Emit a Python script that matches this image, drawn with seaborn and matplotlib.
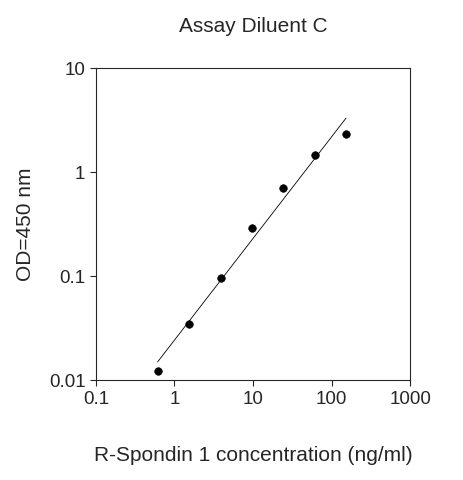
import numpy as np
import matplotlib
matplotlib.use("Agg")
import matplotlib.pyplot as plt
import seaborn as sns

# Standard curve values
conc = [0.61, 1.53, 3.9, 9.8, 24.4, 61, 152.6]
od = [0.0122, 0.035, 0.096, 0.29, 0.70, 1.45, 2.33]

sns.set_style("ticks")
plt.rcParams["font.family"] = ["Liberation Sans", "DejaVu Sans"]

fig = plt.figure(figsize=(4.63, 4.8), dpi=100)
ax = fig.add_axes([0.207, 0.208, 0.679, 0.65])

# log-log linear fit of all standard points
coef = np.polyfit(np.log10(conc), np.log10(od), 1)
xf = np.array([conc[0], conc[-1]])
yf = 10 ** np.polyval(coef, np.log10(xf))
ax.plot(xf, yf, color="black", lw=0.6)

sns.scatterplot(x=conc, y=od, ax=ax, color="black", s=30, edgecolor="black", zorder=3)

ax.set_xscale("log")
ax.set_yscale("log")
ax.set_xlim(0.1, 1000)
ax.set_ylim(0.01, 10)
ax.set_xticks([0.1, 1, 10, 100, 1000])
ax.set_xticklabels(["0.1", "1", "10", "100", "1000"])
ax.set_yticks([0.01, 0.1, 1, 10])
ax.set_yticklabels(["0.01", "0.1", "1", "10"])
ax.minorticks_off()
ax.tick_params(labelsize=13.5, length=4, width=0.8)
for s in ax.spines.values():
    s.set_linewidth(0.8)
sns.despine(ax=ax, top=False, right=False)

ax.set_xlabel("R-Spondin 1 concentration (ng/ml)", fontsize=15, labelpad=28)
ax.set_ylabel("OD=450 nm", fontsize=15, labelpad=10)
ax.set_title("Assay Diluent C", fontsize=15, pad=26)

fig.savefig("out.png", dpi=100)
